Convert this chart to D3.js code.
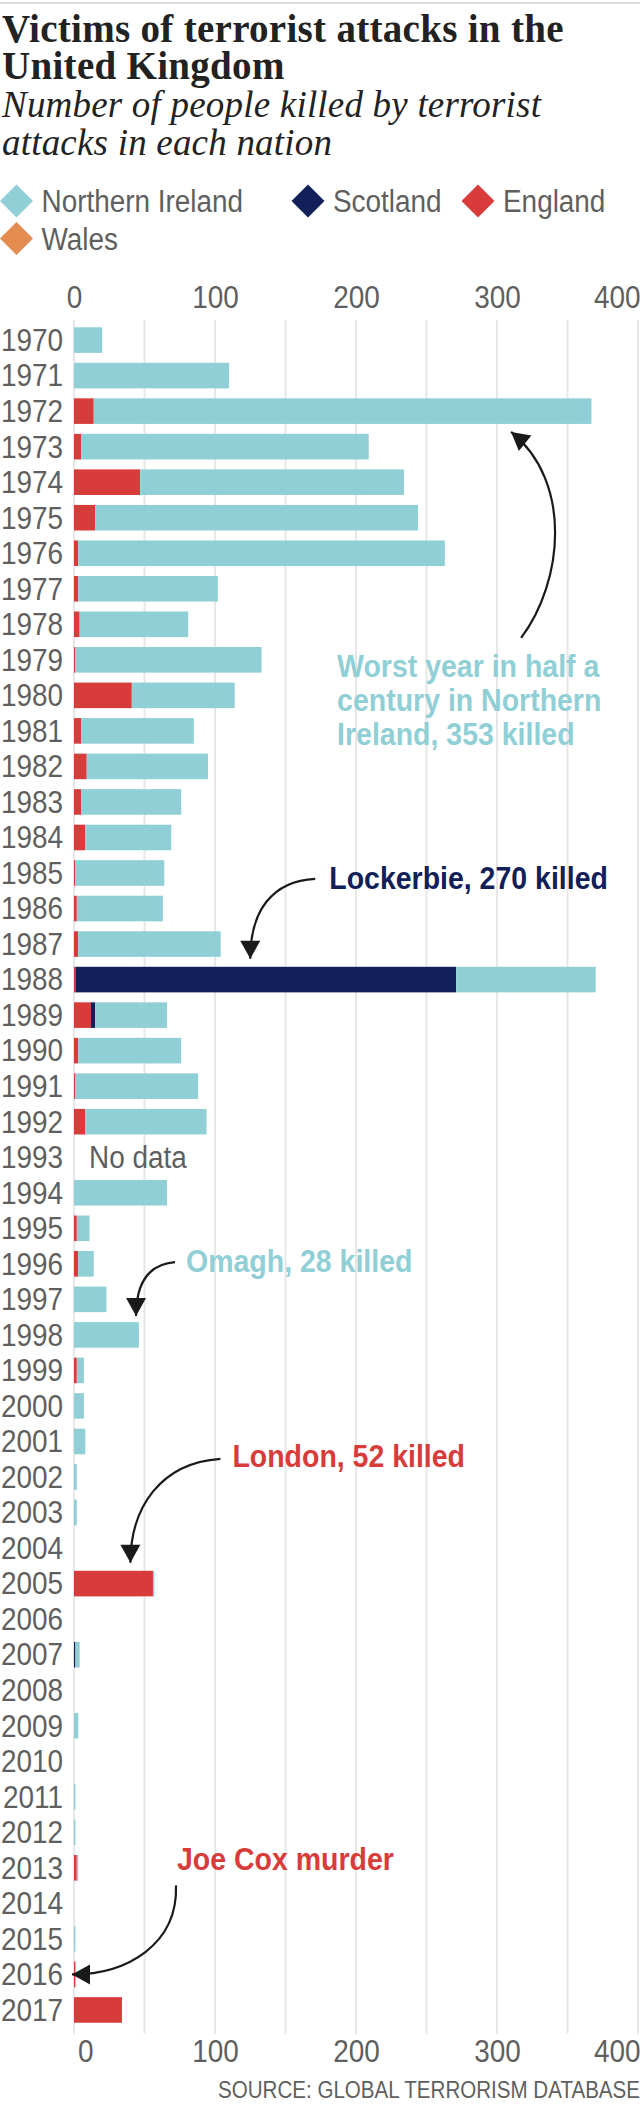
<!DOCTYPE html>
<html><head><meta charset="utf-8">
<script src="https://cdn.jsdelivr.net/npm/d3@7"></script>
<style>
body{margin:0;background:#fff}
svg{display:block}
.cond,.condb,.src{font-family:"Liberation Sans",Arial,sans-serif}
</style>
</head><body>
<svg id="chart" width="640" height="2108"></svg>
<script>
// ---------------- DATA ----------------
const years = ["1970","1971","1972","1973","1974","1975","1976","1977","1978","1979",
  "1980","1981","1982","1983","1984","1985","1986","1987","1988","1989",
  "1990","1991","1992","1993","1994","1995","1996","1997","1998","1999",
  "2000","2001","2002","2003","2004","2005","2006","2007","2008","2009",
  "2010","2011","2012","2013","2014","2015","2016","2017"];

const northernIreland = [20,110,353,204,187,229,260,99,77,132,
  73,80,86,71,61,63,61,101,99,51,
  73,87,86,null,66,9,11,23,46,5,
  7,8,2,2,0,1,0,3,0,3,
  0,1,1,1,0,1,0,0];
const scotland = [0,0,0,0,0,0,0,0,0,0,
  0,0,0,0,0,0,0,0,270,3,
  0,0,0,null,0,0,0,0,0,0,
  0,0,0,0,0,0,0,1,0,0,
  0,0,0,0,0,0,0,0];
const england = [0,0,14,5,47,15,3,3,4,1,
  41,5,9,5,8,1,2,3,1,12,
  3,1,8,null,0,2,3,0,0,2,
  0,0,0,0,0,56,0,0,0,0,
  0,0,0,2,0,0,1,34];
const wales = [0,0,0,0,0,0,0,0,0,0,
  0,0,0,0,0,0,0,0,0,0,
  0,0,0,null,0,0,0,0,0,0,
  0,0,0,0,0,0,0,0,0,0,
  0,0,0,0,0,0,0,0];

const legendLabels = ["Northern Ireland","Scotland","England","Wales"];
const tickLabels = [0,100,200,300,400];
const gridValues = [0,50,100,150,200,250,300,350,400];
const noDataLabel = "No data";

const titleLines = ["Victims of terrorist attacks in the","United Kingdom"];
const subtitleLines = ["Number of people killed by terrorist","attacks in each nation"];
const sourceText = "SOURCE: GLOBAL TERRORISM DATABASE";

const annotations = [
  {lines:["Worst year in half a","century in Northern","Ireland, 353 killed"], series:"Northern Ireland", year:"1972", value:310},
  {lines:["Lockerbie, 270 killed"], series:"Scotland", year:"1988", value:125},
  {lines:["Omagh, 28 killed"], series:"Northern Ireland", year:"1998", value:44},
  {lines:["London, 52 killed"], series:"England", year:"2005", value:40},
  {lines:["Joe Cox murder"], series:"England", year:"2016", value:0}
];

// ---------------- STYLE ----------------
const colors = {"Northern Ireland":"#8fcfd5","Scotland":"#12205a","England":"#d73c3b","Wales":"#e48c4f"};
const textGray = "#5f5f5f";

const rows = years.map((yr,i)=>({
  year: yr,
  "Wales": wales[i], "England": england[i], "Scotland": scotland[i], "Northern Ireland": northernIreland[i],
  missing: northernIreland[i]===null
}));

const svg = d3.select("#chart");

// top rule
svg.append("rect").attr("x",0).attr("y",2).attr("width",640).attr("height",2).attr("fill","#dedede");

// titles
svg.append("g").selectAll("text").data(titleLines).join("text")
  .attr("x",2).attr("y",(d,i)=>41.5+i*37.5)
  .attr("font-family","'Liberation Serif','Times New Roman',serif")
  .attr("font-weight","bold").attr("font-size",39).attr("fill","#222")
  .attr("letter-spacing",0.3)
  .text(d=>d);
svg.append("g").selectAll("text").data(subtitleLines).join("text")
  .attr("x",2).attr("y",(d,i)=>117+i*38)
  .attr("font-family","'Liberation Serif','Times New Roman',serif")
  .attr("font-style","italic").attr("font-size",37).attr("fill","#222")
  .attr("letter-spacing",0.2)
  .text(d=>d);

// legend
const legendPos = [[16.5,201],[308,201],[478,201],[16.5,238.5]];
const lg = svg.append("g").selectAll("g").data(legendLabels).join("g")
  .attr("transform",(d,i)=>`translate(${legendPos[i][0]},${legendPos[i][1]})`);
lg.append("path").attr("d","M0,-16.5L16.5,0L0,16.5L-16.5,0Z").attr("fill",d=>colors[d]);
lg.append("text").attr("class","cond").attr("x",25).attr("y",11)
  .attr("font-size",31).attr("fill",textGray).text(d=>d);

// scales
const x = d3.scaleLinear().domain([0,400]).range([74,638]);
const y = d3.scaleBand().domain(years).range([322.3,2027.7]).paddingInner(0.28).paddingOuter(0.14);

// gridlines
svg.append("g").selectAll("line").data(gridValues).join("line")
  .attr("x1",d=>x(d)).attr("x2",d=>x(d)).attr("y1",320).attr("y2",2034)
  .attr("stroke","#e7e7e7").attr("stroke-width",2);

// axes
function styleAxis(g, isBottom){
  g.select(".domain").remove();
  g.selectAll("line").remove();
  g.selectAll("text").attr("class","cond").attr("font-size",31).attr("fill",textGray)
    .attr("font-family",null).attr("y",0).attr("dy",0);
  g.selectAll(".tick").filter(d=>d===400).select("text").attr("text-anchor","end").attr("x",2);
  if(isBottom) g.selectAll(".tick").filter(d=>d===0).select("text").attr("text-anchor","start").attr("x",3.5);
}
svg.append("g").attr("transform","translate(0,308)")
  .call(d3.axisTop(x).tickValues(tickLabels).tickSize(0).tickPadding(0))
  .call(g=>styleAxis(g,false));
svg.append("g").attr("transform","translate(0,2062)")
  .call(d3.axisBottom(x).tickValues(tickLabels).tickSize(0).tickPadding(0))
  .call(g=>styleAxis(g,true));

// year labels
svg.append("g").selectAll("text").data(years).join("text")
  .attr("class","cond").attr("x",63).attr("y",d=>y(d)+y.bandwidth()/2).attr("dy","0.35em")
  .attr("text-anchor","end").attr("font-size",31).attr("fill",textGray).text(d=>d);

// bars
const keys = ["Wales","England","Scotland","Northern Ireland"];
const stack = d3.stack().keys(keys).value((d,k)=>d[k]||0)(rows);
svg.append("g").selectAll("g").data(stack).join("g").attr("fill",d=>colors[d.key])
  .selectAll("rect").data(d=>d.filter(s=>!s.data.missing && s[1]>s[0])).join("rect")
  .attr("x",d=>x(d[0])).attr("width",d=>x(d[1])-x(d[0]))
  .attr("y",d=>y(d.data.year)).attr("height",y.bandwidth());

// no data
rows.filter(r=>r.missing).forEach(r=>{
  svg.append("text").attr("class","cond").attr("x",x(0)+15).attr("y",y(r.year)+y.bandwidth()/2).attr("dy","0.35em")
    .attr("font-size",31).attr("fill",textGray).text(noDataLabel);
});

// arrow marker
const defs = svg.append("defs");
defs.append("marker").attr("id","arrow").attr("markerUnits","userSpaceOnUse")
  .attr("markerWidth",22).attr("markerHeight",22).attr("viewBox","0 0 22 22")
  .attr("refX",20).attr("refY",11).attr("orient","auto")
  .append("path").attr("d","M2,1L20,11L2,21Z").attr("fill","#1a1a1a");

// annotations: positions relative to anchor bar
const bw = y.bandwidth();
const annLayout = [
  {tip:a=>[x(a.value), y(a.year)+bw+8],
   path:(t)=>`M${t[0]+10},${t[1]+206} C${t[0]+52},${t[1]+150} ${t[0]+62},${t[1]+50} ${t[0]},${t[1]}`,
   text:(t)=>[t[0]-174, t[1]+245], lh:34.2},
  {tip:a=>[x(a.value), y(a.year)-8],
   path:(t)=>`M${t[0]+65},${t[1]-80} C${t[0]+22},${t[1]-78} ${t[0]},${t[1]-48} ${t[0]},${t[1]}`,
   text:(t)=>[t[0]+79, t[1]-70], lh:34},
  {tip:a=>[x(a.value), y(a.year)-6],
   path:(t)=>`M${t[0]+39},${t[1]-54} C${t[0]+14},${t[1]-52} ${t[0]},${t[1]-35} ${t[0]},${t[1]}`,
   text:(t)=>[t[0]+50, t[1]-44], lh:34},
  {tip:a=>[x(a.value), y(a.year)-8],
   path:(t)=>`M${t[0]+90},${t[1]-104} C${t[0]+30},${t[1]-100} ${t[0]},${t[1]-55} ${t[0]},${t[1]}`,
   text:(t)=>[t[0]+102, t[1]-96], lh:34},
  {tip:a=>[x(a.value)-2, y(a.year)+bw/2],
   path:(t)=>`M${t[0]+104},${t[1]-89} C${t[0]+106},${t[1]-30} ${t[0]+55},${t[1]} ${t[0]},${t[1]}`,
   text:(t)=>[t[0]+105, t[1]-104], lh:34}
];
annotations.forEach((a,i)=>{
  const L = annLayout[i];
  const t = L.tip(a);
  svg.append("path").attr("d",L.path(t)).attr("fill","none").attr("stroke","#1a1a1a")
    .attr("stroke-width",2.2).attr("marker-end","url(#arrow)");
  const tp = L.text(t);
  svg.append("g").selectAll("text").data(a.lines).join("text").attr("class","condb")
    .attr("x",tp[0]).attr("y",(d,j)=>tp[1]+j*L.lh)
    .attr("font-size",32).attr("font-weight","bold").attr("fill",colors[a.series]).text(d=>d);
});

// source
svg.append("text").attr("class","src").attr("x",640).attr("y",2098).attr("text-anchor","end")
  .attr("font-size",23.5).attr("fill",textGray).text(sourceText);

// condensed look: horizontally compress the sans texts
const squeeze = {cond:0.9, condb:0.89, src:0.875};
Object.entries(squeeze).forEach(([cls,k])=>{
  svg.selectAll("text."+cls).each(function(){
    const w = this.getComputedTextLength();
    d3.select(this).attr("textLength",w*k).attr("lengthAdjust","spacingAndGlyphs");
  });
});
</script>
</body></html>
